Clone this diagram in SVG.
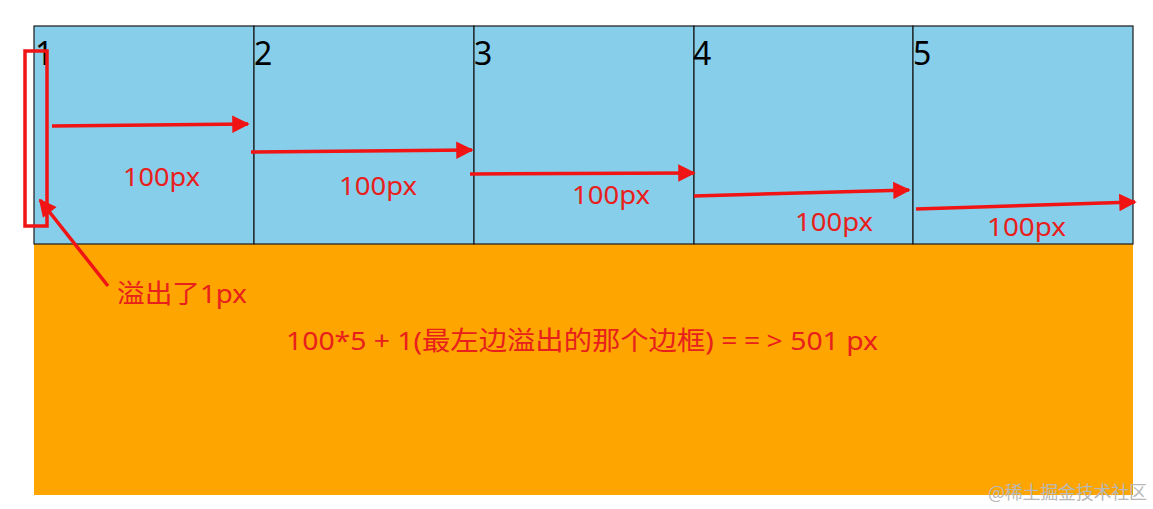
<svg xmlns="http://www.w3.org/2000/svg" width="1153" height="509" viewBox="0 0 1153 509">
<defs>
<style>
.cell{fill:#87CEEB;stroke:#1a1a1a;stroke-width:1.2}
.num{font-family:"Noto Sans","Noto Sans CJK SC",sans-serif;font-size:32px;fill:#000}
.lbl{font-family:"Noto Sans","Noto Sans CJK SC",sans-serif;font-size:26px;fill:#e8201c}
.arr{stroke:#f01414;stroke-width:3.5;fill:none;marker-end:url(#ah)}
</style>
<marker id="ah" viewBox="0 0 10 10" refX="9" refY="5" markerWidth="5.5" markerHeight="5" orient="auto" markerUnits="strokeWidth">
<path d="M0,0 L10,5 L0,10 z" fill="#f01414"/>
</marker>
</defs>
<rect x="0" y="0" width="1153" height="509" fill="#fff"/>
<rect id="orange" x="34" y="244" width="1099" height="251" fill="#FFA500"/>
<g id="cell1"><rect class="cell" x="34" y="26" width="220" height="218"/><text class="num" x="35" y="65">1</text></g>
<g id="cell2"><rect class="cell" x="254" y="26" width="220" height="218"/><text class="num" x="254" y="65">2</text></g>
<g id="cell3"><rect class="cell" x="474" y="26" width="220" height="218"/><text class="num" x="474" y="65">3</text></g>
<g id="cell4"><rect class="cell" x="694" y="26" width="219" height="218"/><text class="num" x="693" y="65">4</text></g>
<g id="cell5"><rect class="cell" x="913" y="26" width="220" height="218"/><text class="num" x="913" y="65">5</text></g>
<g id="overflow"><rect x="25" y="51" width="22" height="175" fill="none" stroke="#f01414" stroke-width="3.5"/></g>
<g id="connectors">
<line class="arr" x1="52" y1="126" x2="248" y2="124"/>
<line class="arr" x1="251" y1="152" x2="472" y2="150"/>
<line class="arr" x1="470" y1="174" x2="694" y2="173"/>
<line class="arr" x1="694" y1="196" x2="909" y2="190"/>
<line class="arr" x1="916" y1="209" x2="1135" y2="202"/>
<line class="arr" x1="108" y1="286" x2="40" y2="200"/>
</g>
<g id="labels">
<text class="lbl" x="123" y="186" textLength="77" lengthAdjust="spacingAndGlyphs">100px</text>
<text class="lbl" x="339" y="195" textLength="78" lengthAdjust="spacingAndGlyphs">100px</text>
<text class="lbl" x="572" y="204" textLength="78" lengthAdjust="spacingAndGlyphs">100px</text>
<text class="lbl" x="795" y="231" textLength="78" lengthAdjust="spacingAndGlyphs">100px</text>
<text class="lbl" x="987" y="236" textLength="79" lengthAdjust="spacingAndGlyphs">100px</text>
<text class="lbl" x="117" y="303" textLength="130" lengthAdjust="spacingAndGlyphs">溢出了1px</text>
<text class="lbl" x="286" y="350" textLength="592" lengthAdjust="spacingAndGlyphs">100*5 + 1(最左边溢出的那个边框) <tspan letter-spacing="6">==</tspan>&gt; 501 px</text>
</g>
<text x="988" y="499" font-family="'Noto Sans CJK SC',sans-serif" font-size="18" fill="#b8b8b8" textLength="159">@稀土掘金技术社区</text>
</svg>
